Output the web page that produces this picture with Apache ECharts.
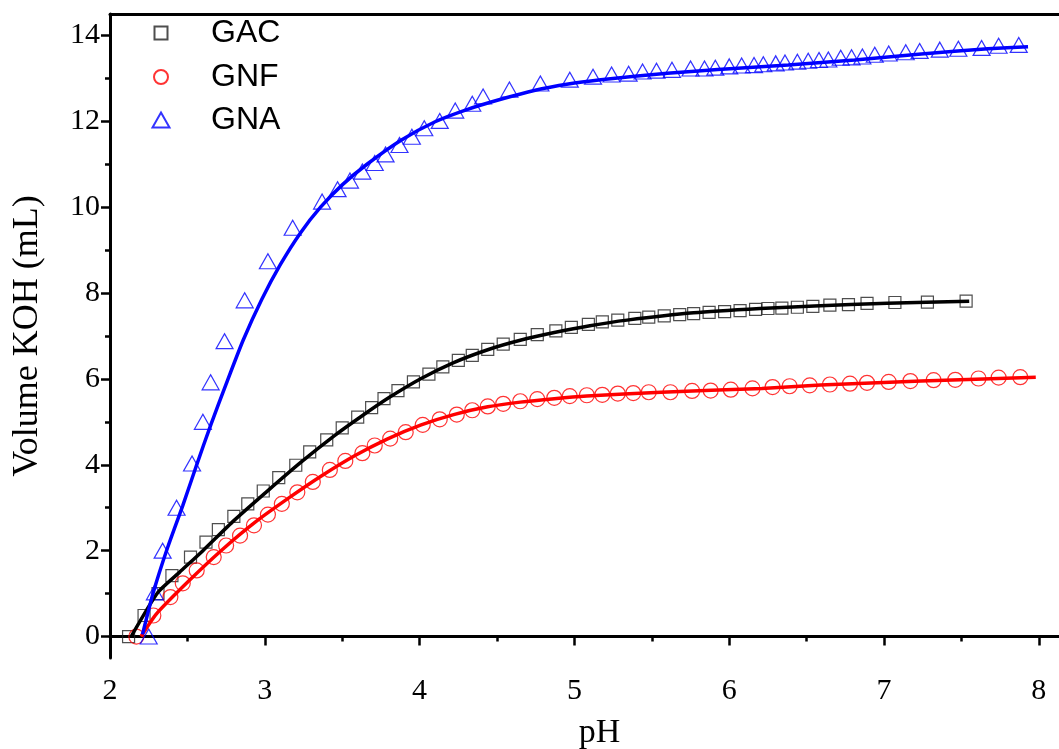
<!DOCTYPE html>
<html><head><meta charset="utf-8">
<script src="https://cdn.jsdelivr.net/npm/echarts@6/dist/echarts.min.js"></script>
<style>html,body{margin:0;padding:0;background:#fff}#c{width:1059px;height:749px}</style>
</head><body><div id="c"></div>
<script>
// ---- tick labels ----
const xTicks = [2, 3, 4, 5, 6, 7, 8];
const xMinorTicks = [2.5, 3.5, 4.5, 5.5, 6.5, 7.5];
const yTicks = [0, 2, 4, 6, 8, 10, 12, 14];
const yMinorTicks = [1, 3, 5, 7, 9, 11, 13];
const seriesNames = ['GAC', 'GNF', 'GNA'];

// ---- GAC (squares) ----
const gacPH  = [2.12,2.22,2.31,2.40,2.52,2.62,2.70,2.80,2.89,2.99,3.09,3.20,3.29,3.40,3.50,3.60,3.69,3.77,3.86,3.96,4.06,4.15,4.25,4.34,4.44,4.54,4.65,4.76,4.88,4.98,5.09,5.18,5.28,5.39,5.48,5.58,5.68,5.77,5.87,5.97,6.07,6.17,6.25,6.34,6.44,6.54,6.65,6.77,6.89,7.07,7.28,7.53];
const gacVol = [0,0.49,1.00,1.42,1.85,2.20,2.49,2.80,3.09,3.39,3.70,3.99,4.30,4.58,4.86,5.11,5.33,5.54,5.73,5.93,6.11,6.28,6.43,6.55,6.69,6.81,6.92,7.03,7.12,7.20,7.27,7.33,7.37,7.41,7.44,7.47,7.50,7.52,7.55,7.57,7.59,7.62,7.64,7.65,7.67,7.69,7.72,7.73,7.76,7.78,7.79,7.81];
const gacFitPH  = [2.14,2.31,2.45,2.60,2.80,3.02,3.23,3.45,3.62,3.80,4.01,4.22,4.44,4.65,4.87,5.10,5.34,5.77,6.20,6.55,7.02,7.55];
const gacFitVol = [0.02,1.03,1.50,2.00,2.70,3.40,4.05,4.68,5.12,5.56,6.01,6.38,6.68,6.90,7.08,7.24,7.37,7.54,7.64,7.70,7.76,7.81];

// ---- GNF (circles) ----
const gnfPH  = [2.17,2.28,2.39,2.47,2.56,2.67,2.75,2.84,2.93,3.02,3.11,3.21,3.31,3.42,3.52,3.63,3.71,3.81,3.91,4.02,4.13,4.24,4.34,4.44,4.54,4.65,4.76,4.87,4.97,5.08,5.18,5.28,5.38,5.48,5.62,5.76,5.88,6.01,6.15,6.28,6.39,6.52,6.65,6.78,6.89,7.03,7.17,7.32,7.46,7.61,7.74,7.88];
const gnfVol = [0,0.49,0.92,1.24,1.54,1.85,2.12,2.35,2.59,2.84,3.09,3.36,3.60,3.88,4.09,4.27,4.45,4.61,4.76,4.93,5.06,5.17,5.27,5.36,5.42,5.48,5.53,5.56,5.60,5.62,5.63,5.66,5.67,5.69,5.69,5.72,5.73,5.75,5.78,5.81,5.83,5.85,5.87,5.89,5.91,5.93,5.95,5.97,5.98,6.01,6.03,6.04];
const gnfFitPH  = [2.20,2.30,2.51,2.73,2.94,3.16,3.37,3.58,3.79,4.01,4.22,4.44,4.65,4.87,5.08,5.56,6.21,6.59,7.24,7.98];
const gnfFitVol = [0.00,0.53,1.30,2.04,2.67,3.24,3.75,4.21,4.60,4.93,5.17,5.35,5.46,5.54,5.60,5.69,5.78,5.86,5.95,6.04];

// ---- GNA (triangles) ----
const gnaPH  = [2.25,2.29,2.34,2.43,2.53,2.60,2.65,2.74,2.87,3.02,3.18,3.37,3.47,3.55,3.63,3.71,3.78,3.87,3.95,4.03,4.13,4.23,4.34,4.41,4.58,4.78,4.97,5.12,5.24,5.35,5.44,5.53,5.63,5.75,5.84,5.91,6.00,6.08,6.16,6.22,6.30,6.36,6.44,6.51,6.58,6.64,6.72,6.79,6.86,6.94,7.03,7.14,7.23,7.36,7.48,7.63,7.74,7.87];
const gnaVol = [0,1.03,2.00,3.00,4.03,5.00,5.92,6.88,7.83,8.74,9.52,10.13,10.42,10.62,10.83,11.03,11.23,11.45,11.64,11.84,12.01,12.25,12.41,12.58,12.74,12.88,12.97,13.04,13.09,13.11,13.16,13.18,13.20,13.23,13.23,13.25,13.28,13.30,13.31,13.33,13.35,13.37,13.39,13.41,13.43,13.44,13.48,13.49,13.51,13.55,13.58,13.61,13.64,13.67,13.69,13.71,13.76,13.78];
const gnaFitPH  = [2.21,2.28,2.37,2.47,2.56,2.65,2.75,2.86,2.98,3.10,3.23,3.36,3.50,3.66,3.88,4.10,4.31,4.53,4.74,4.96,5.17,5.39,5.60,5.82,6.03,6.38,6.81,7.24,7.67,7.93];
const gnaFitVol = [0.05,1.03,2.05,3.05,4.00,4.92,5.88,6.90,7.85,8.66,9.40,10.00,10.52,11.00,11.56,11.99,12.28,12.52,12.72,12.87,12.97,13.05,13.12,13.18,13.23,13.31,13.43,13.57,13.69,13.74];

const zip = (a, b) => a.map((v, i) => [v, b[i]]);

const X_MIN = 2, X_MAX = 8.13, Y_MIN = -0.5, Y_MAX = 14.5;
const serif = 'Liberation Serif';
const sans = 'Liberation Sans';
const gridPos = { left: 110, top: 14, right: 0, bottom: 91, containLabel: false, outerBoundsMode: 'none' };

const markerStyle = (c) => ({ color: 'rgba(0,0,0,0)', borderColor: c, borderWidth: 1.2 });

function legendFor(name, top, w, h) {
  return {
    data: [name], left: 160 - w / 2, top: top, orient: 'vertical', padding: 0,
    itemWidth: w, itemHeight: h, selectedMode: false,
    textStyle: { fontFamily: sans, fontSize: 32, color: '#000', lineHeight: 32, padding: [0, 0, 0, 45 - w / 2] }
  };
}

const option = {
  animation: false,
  backgroundColor: '#fff',
  grid: [Object.assign({}, gridPos), Object.assign({}, gridPos)],
  legend: [legendFor(seriesNames[0], 17, 13, 13), legendFor(seriesNames[1], 61, 14, 14), legendFor(seriesNames[2], 104, 17, 15)],
  xAxis: [
    { type: 'value', gridIndex: 0, min: X_MIN, max: X_MAX, position: 'bottom',
      axisLine: { show: true, lineStyle: { color: '#000', width: 3 } },
      axisTick: { show: true, customValues: xTicks, length: 9, lineStyle: { color: '#000', width: 2.5 } },
      axisLabel: { customValues: xTicks, fontFamily: serif, fontSize: 30, color: '#000', margin: 18 },
      splitLine: { show: false },
      name: 'pH', nameLocation: 'middle', nameGap: 58,
      nameTextStyle: { fontFamily: serif, fontSize: 34, color: '#000', padding: [0, 0, 0, 30] } },
    { type: 'value', gridIndex: 0, min: X_MIN, max: X_MAX, position: 'top',
      axisLine: { show: true, lineStyle: { color: '#000', width: 3 } },
      axisTick: { show: false }, axisLabel: { show: false }, splitLine: { show: false } },
    { type: 'value', gridIndex: 1, min: X_MIN, max: X_MAX, position: 'bottom',
      axisLine: { show: false },
      axisTick: { show: true, customValues: xMinorTicks, length: 5, lineStyle: { color: '#000', width: 2.5 } },
      axisLabel: { show: false }, splitLine: { show: false } }
  ],
  yAxis: [
    { type: 'value', gridIndex: 0, min: Y_MIN, max: Y_MAX, position: 'left',
      axisLine: { show: true, lineStyle: { color: '#000', width: 3 } },
      axisTick: { show: true, customValues: yTicks, length: 9, lineStyle: { color: '#000', width: 2.5 } },
      axisLabel: { customValues: yTicks, fontFamily: serif, fontSize: 30, color: '#000', margin: 10 },
      splitLine: { show: false },
      name: 'Volume KOH (mL)', nameLocation: 'middle', nameGap: 64,
      nameTextStyle: { fontFamily: serif, fontSize: 36, color: '#000' } },
    { type: 'value', gridIndex: 1, min: Y_MIN, max: Y_MAX, position: 'left',
      axisLine: { show: false },
      axisTick: { show: true, customValues: yMinorTicks, length: 5, lineStyle: { color: '#000', width: 2.5 } },
      axisLabel: { show: false }, splitLine: { show: false } }
  ],
  series: [
    { name: seriesNames[0], type: 'scatter', xAxisIndex: 0, yAxisIndex: 0, symbol: 'rect', symbolSize: 12,
      itemStyle: markerStyle('#222'), data: zip(gacPH, gacVol), z: 2 },
    { name: seriesNames[1], type: 'scatter', xAxisIndex: 0, yAxisIndex: 0, symbol: 'circle', symbolSize: 15,
      itemStyle: markerStyle('#ff0000'), data: zip(gnfPH, gnfVol), z: 2 },
    { name: seriesNames[2], type: 'scatter', xAxisIndex: 0, yAxisIndex: 0, symbol: 'triangle', symbolSize: [17, 15],
      itemStyle: markerStyle('#0000ff'), data: zip(gnaPH, gnaVol), z: 2 },
    { name: 'GAC fit', type: 'line', xAxisIndex: 0, yAxisIndex: 0, showSymbol: false, smooth: 0.2,
      lineStyle: { color: '#000', width: 3.5 }, data: zip(gacFitPH, gacFitVol), z: 3 },
    { name: 'GNF fit', type: 'line', xAxisIndex: 0, yAxisIndex: 0, showSymbol: false, smooth: 0.2,
      lineStyle: { color: '#ff0000', width: 3.5 }, data: zip(gnfFitPH, gnfFitVol), z: 3 },
    { name: 'GNA fit', type: 'line', xAxisIndex: 0, yAxisIndex: 0, showSymbol: false, smooth: 0.2,
      lineStyle: { color: '#0000ff', width: 3.5 }, data: zip(gnaFitPH, gnaFitVol), z: 3 }
  ]
};

const chart = echarts.init(document.getElementById('c'), null, { renderer: 'canvas' });
chart.setOption(option);
</script>
</body></html>
